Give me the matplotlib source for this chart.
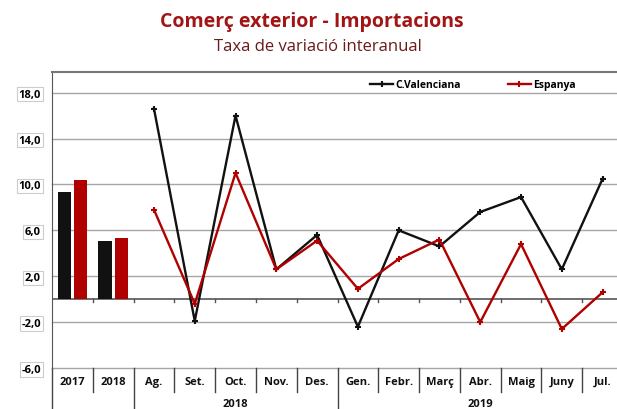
import matplotlib
matplotlib.use("Agg")
import matplotlib.pyplot as plt
import numpy as np

categories = ["2017", "2018", "Ag.", "Set.", "Oct.", "Nov.", "Des.", "Gen.",
              "Febr.", "Març", "Abr.", "Maig", "Juny", "Jul."]
annual_cv = [9.3, 5.1]
annual_es = [10.4, 5.35]
months = categories[2:]
monthly_cv = [16.6, -1.9, 16.0, 2.6, 5.6, -2.4, 6.0, 4.6, 7.6, 8.9, 2.6, 10.5]
monthly_es = [7.8, -0.4, 11.0, 2.6, 5.1, 0.9, 3.5, 5.2, -2.0, 4.8, -2.6, 0.6]
year_groups = [("2018", 2, 6), ("2019", 7, 13)]
yticks = [-6, -2, 2, 6, 10, 14, 18]

plt.rcParams['font.family'] = ['Open Sans', 'DejaVu Sans']

fig = plt.figure(figsize=(6.17, 4.10), dpi=100)
ax = fig.add_axes([52/617, 1-369/410, (623-52)/617, (369-73)/410])

BLACK = "#111111"
RED = "#B00000"

ax.set_xlim(-0.5, len(categories)-0.5)
ax.set_ylim(-6, 19.8)

# grid
for t in yticks:
    ax.axhline(t, color="#a6a6a6", lw=1.0, zorder=0, clip_on=False)
ax.axhline(0, color="#555555", lw=1.2, zorder=1)

# bars
xb = np.arange(2)
ax.bar(xb-0.2, annual_cv, width=0.33, color=BLACK, zorder=2)
ax.bar(xb+0.2, annual_es, width=0.33, color=RED, zorder=2)

# lines
xm = np.arange(2, len(categories))
ax.plot(xm, monthly_cv, color=BLACK, lw=1.7, marker='+', ms=4, mew=1.5, zorder=3, label="C.Valenciana")
ax.plot(xm, monthly_es, color=RED, lw=1.7, marker='+', ms=4, mew=1.5, zorder=3, label="Espanya")

# zero-line tick marks
for b in np.arange(0.5, len(categories)-0.5, 1):
    ax.plot([b, b], [0, -0.25], color="#555555", lw=1, zorder=1)

for s in ["right", "bottom"]:
    ax.spines[s].set_visible(False)
ax.spines["top"].set_color("#777777")
ax.spines["top"].set_linewidth(1.5)
ax.spines["left"].set_color("#555555")

ax.set_xticks([])
ax.set_yticks(yticks)
ax.set_yticklabels([f"{t:.1f}".replace(".", ",") for t in yticks],
                   fontsize=8, fontweight='bold')
for lab in ax.get_yticklabels():
    lab.set_bbox(dict(boxstyle="square,pad=0.15", fc="white", ec="#cccccc", lw=0.8))
ax.tick_params(axis='y', length=0, pad=8)

# category table below axis
trans = ax.get_xaxis_transform()
for i, c in enumerate(categories):
    ax.text(i, -0.045, c, transform=trans, ha='center', va='center',
            fontsize=8, fontweight='bold', color=BLACK)
long_lines = {-0.5, 1.5, 6.5}
for b in np.arange(-0.5, len(categories)-0.5, 1):
    y0 = -0.139 if b in long_lines else -0.08
    ax.plot([b, b], [0, y0], transform=trans, color="#444444", lw=1, clip_on=False)
for name, a, bnd in year_groups:
    ax.text((a+bnd)/2, -0.12, name, transform=trans, ha='center', va='center',
            fontsize=8, fontweight='bold', color=BLACK)

leg = ax.legend(loc='upper left', bbox_to_anchor=(0.545, 1.0), ncol=2, frameon=False,
                handlelength=2.2, handletextpad=0.2, columnspacing=4.5,
                borderaxespad=0.3, prop={'weight': 'bold', 'size': 7.5})

fig.text(312/617, 1-22/410, "Comerç exterior - Importacions", ha='center', va='center',
         fontsize=14, fontweight='bold', color="#A31515")
fig.text(318/617, 1-47/410, "Taxa de variació interanual", ha='center', va='center',
         fontsize=12, color="#6B1A1A")

fig.savefig("out.png", dpi=100)
